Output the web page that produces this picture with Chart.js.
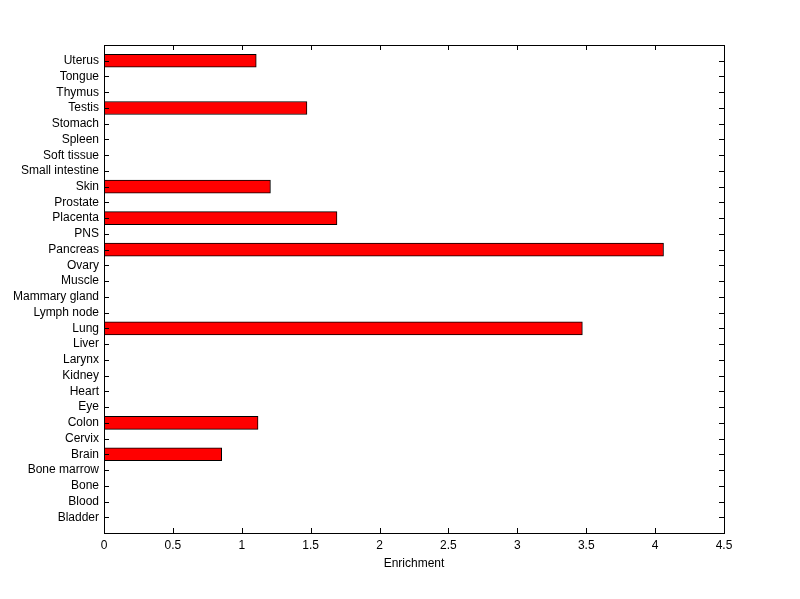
<!DOCTYPE html>
<html>
<head>
<meta charset="utf-8">
<script src="https://cdn.jsdelivr.net/npm/chart.js@4"></script>
<style>
  body { margin: 0; background: #fff; }
  #wrap { width: 800px; height: 599px; }
</style>
</head>
<body>
<div id="wrap"><canvas id="chart" width="800" height="599"></canvas></div>
<script>
// tissues listed bottom to top, as on the axis
const tissues = ['Bladder', 'Blood', 'Bone', 'Bone marrow', 'Brain', 'Cervix', 'Colon', 'Eye', 'Heart',
    'Kidney', 'Larynx', 'Liver', 'Lung', 'Lymph node', 'Mammary gland', 'Muscle', 'Ovary', 'Pancreas',
    'PNS', 'Placenta', 'Prostate', 'Skin', 'Small intestine', 'Soft tissue', 'Spleen', 'Stomach',
    'Testis', 'Thymus', 'Tongue', 'Uterus'];
const enrichment = [0, 0, 0, 0, 0.854, 0, 1.118, 0, 0,
    0, 0, 0, 3.472, 0, 0, 0, 0, 4.061,
    0, 1.691, 0, 1.208, 0, 0, 0, 0,
    1.473, 0, 0, 1.105];
const xTicks = [0, 0.5, 1, 1.5, 2, 2.5, 3, 3.5, 4, 4.5];

// empty slot at each end, like the axis padding in the picture
const labels = [''].concat(tissues, ['']);
const values = [null].concat(enrichment, [null]);

const frameTicks = {
    id: 'frameTicks',
    afterDraw(chart) {
        const ctx = chart.ctx;
        const a = chart.chartArea;
        const xs = chart.scales.x;
        const ys = chart.scales.y;
        const len = 5;
        ctx.save();
        ctx.strokeStyle = '#000';
        ctx.lineWidth = 1;
        ctx.beginPath();
        xTicks.forEach(v => {
            const px = Math.round(xs.getPixelForValue(v)) + 0.5;
            ctx.moveTo(px, a.top);
            ctx.lineTo(px, a.top + len);
            ctx.moveTo(px, a.bottom);
            ctx.lineTo(px, a.bottom - len);
        });
        for (let i = 1; i <= tissues.length; i++) {
            const py = Math.round(ys.getPixelForValue(i)) + 0.5;
            ctx.moveTo(a.left, py);
            ctx.lineTo(a.left + len, py);
            ctx.moveTo(a.right, py);
            ctx.lineTo(a.right - len, py);
        }
        ctx.stroke();
        ctx.strokeRect(Math.round(a.left) + 0.5, Math.round(a.top) + 0.5,
            Math.round(a.right - a.left), Math.round(a.bottom - a.top));
        ctx.restore();
    }
};

Chart.defaults.font.family = 'Arial, "Liberation Sans", sans-serif';
Chart.defaults.font.size = 12;
Chart.defaults.color = '#000';

new Chart(document.getElementById('chart'), {
    type: 'bar',
    data: {
        labels: labels,
        datasets: [{
            data: values,
            backgroundColor: '#ff0000',
            borderColor: '#000',
            borderWidth: 1,
            borderSkipped: false,
            barThickness: 13
        }]
    },
    options: {
        indexAxis: 'y',
        responsive: false,
        animation: false,
        layout: { padding: { left: 0, top: 45, right: 76, bottom: 28 } },
        plugins: { legend: { display: false }, tooltip: { enabled: false } },
        scales: {
            x: {
                type: 'linear',
                min: 0,
                max: 4.5,
                afterBuildTicks: scale => { scale.ticks = xTicks.map(v => ({ value: v })); },
                ticks: { padding: 5, maxRotation: 0, callback: v => String(v) },
                grid: { display: false, drawTicks: false },
                border: { display: false },
                title: { display: true, text: 'Enrichment', padding: { top: 4, bottom: 0 } },
                afterFit: scale => { scale.height = 38; }
            },
            y: {
                type: 'category',
                reverse: true,
                offset: false,
                ticks: { autoSkip: false, padding: 5 },
                grid: { display: false, drawTicks: false },
                border: { display: false },
                afterFit: scale => { scale.width = 104; }
            }
        }
    },
    plugins: [frameTicks]
});
</script>
</body>
</html>
